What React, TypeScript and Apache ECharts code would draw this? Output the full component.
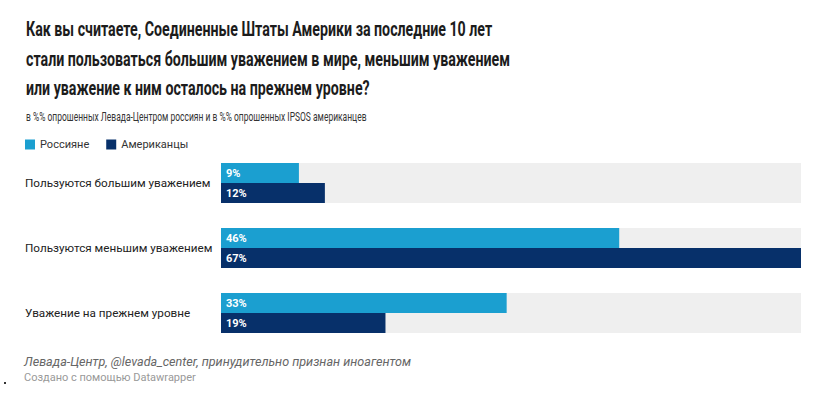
import React, { useEffect, useRef } from "react";
import * as echarts from "echarts";

const categories = [
  "Пользуются большим уважением",
  "Пользуются меньшим уважением",
  "Уважение на прежнем уровне",
];
const seriesNames = ["Россияне", "Американцы"];
const russians = [9, 46, 33];
const americans = [12, 67, 19];
const titleLines = [
  "Как вы считаете, Соединенные Штаты Америки за последние 10 лет",
  "стали пользоваться большим уважением в мире, меньшим уважением",
  "или уважение к ним осталось на прежнем уровне?",
];
const subtitle =
  "в %% опрошенных Левада-Центром россиян и в %% опрошенных IPSOS американцев";
const sourceText = "Левада-Центр, @levada_center, принудительно признан иноагентом";
const creditText = "Создано с помощью Datawrapper";

const LIGHT = "#1b9fd0";
const DARK = "#07306a";
const FONT = "Roboto, sans-serif";

function measure(text: string, font: string): number {
  const c = document.createElement("canvas").getContext("2d");
  if (!c) return text.length * 10;
  c.font = font;
  return c.measureText(text).width;
}

export default function App() {
  const ref = useRef<HTMLDivElement>(null);
  useEffect(() => {
    if (!ref.current) return;
    const chart = echarts.init(ref.current, null, { renderer: "svg" });
    const maxV = Math.max(...russians, ...americans);
    // condense the title / subtitle horizontally to mimic a condensed face
    const titleScale = 484 / measure(titleLines[1], "bold 21px Roboto");
    const subScale = 341 / measure(subtitle, "12.5px Roboto");
    const label = {
      show: true,
      position: "insideLeft" as const,
      distance: 5,
      color: "#ffffff",
      fontSize: 11,
      fontWeight: "bold" as const,
      fontFamily: FONT,
      formatter: "{c}%",
    };
    chart.setOption({
      animation: false,
      backgroundColor: "#ffffff",
      graphic: [
        ...titleLines.map((t, i) => ({
          type: "text",
          x: 26,
          y: 18 + i * 29.5,
          scaleX: titleScale,
          style: {
            text: t,
            x: 0,
            y: 0,
            verticalAlign: "top",
            fontSize: 21,
            fontWeight: "bold",
            fontFamily: FONT,
            fill: "#1c1c1c",
          },
        })),
        {
          type: "text",
          x: 26,
          y: 110,
          scaleX: subScale,
          style: {
            text: subtitle,
            x: 0,
            y: 0,
            verticalAlign: "top",
            fontSize: 12.5,
            fontFamily: FONT,
            fill: "#333",
          },
        },
        {
          type: "text",
          left: 24,
          top: 355,
          style: {
            text: sourceText,
            fontSize: 12.6,
            fontStyle: "italic",
            fontFamily: FONT,
            fill: "#666",
          },
        },
        {
          type: "text",
          left: 24,
          top: 372,
          style: {
            text: creditText,
            fontSize: 11,
            fontFamily: FONT,
            fill: "#999",
          },
        },
        {
          type: "rect",
          left: 4,
          top: 382,
          shape: { width: 2, height: 2 },
          style: { fill: "#333" },
        },
      ],
      legend: {
        left: 25,
        top: 139,
        padding: 0,
        itemWidth: 10,
        itemHeight: 10,
        itemGap: 17,
        icon: "rect",
        textStyle: { fontSize: 11, fontFamily: FONT, color: "#333" },
        data: seriesNames,
      },
      grid: { left: 221, right: 16, top: 150.5, height: 195, containLabel: false },
      xAxis: {
        type: "value",
        min: 0,
        max: maxV,
        show: false,
      },
      yAxis: {
        type: "category",
        data: categories,
        inverse: true,
        axisLine: { show: false },
        axisTick: { show: false },
        axisLabel: {
          align: "left",
          margin: 196,
          fontSize: 11.7,
          color: "#222",
          fontFamily: FONT,
        },
      },
      series: [
        {
          name: seriesNames[0],
          type: "bar",
          data: russians,
          barWidth: 20,
          barGap: "0%",
          itemStyle: { color: LIGHT },
          showBackground: true,
          backgroundStyle: { color: "#efefef" },
          label,
        },
        {
          name: seriesNames[1],
          type: "bar",
          data: americans,
          barWidth: 20,
          barGap: "0%",
          itemStyle: { color: DARK },
          showBackground: true,
          backgroundStyle: { color: "#efefef" },
          label,
        },
      ],
    });
    return () => chart.dispose();
  }, []);
  return <div ref={ref} style={{ width: 817, height: 393, position: "absolute", left: 0, top: 0 }} />;
}
